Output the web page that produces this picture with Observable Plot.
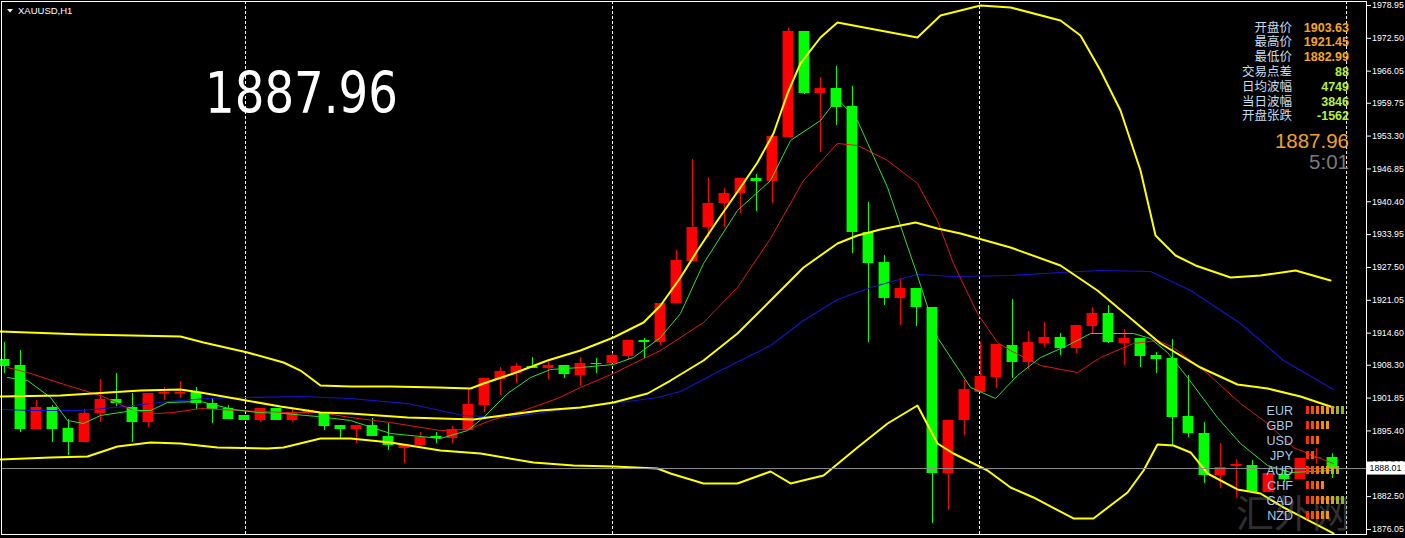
<!DOCTYPE html>
<html>
<head>
<meta charset="utf-8">
<script src="https://cdn.jsdelivr.net/npm/d3@7"></script>
<script src="https://cdn.jsdelivr.net/npm/@observablehq/plot@0.6"></script>
<style>
html,body{margin:0;padding:0;background:#000;}
#chart svg{display:block;}
</style>
</head>
<body>
<div id="chart"></div>
<script>
// ---------- DATA ----------
const symbolTitle = "XAUUSD,H1";
const bigPrice = "1887.96";

const opens = [
1909.43,1908.25,1895.68,1900.00,1895.88,1893.13,1898.82,1901.57,1900.00,1897.05,
1902.60,1902.60,1902.94,1900.78,1899.80,1898.43,1897.45,1899.80,1897.45,1898.82,
1898.82,1896.46,1895.68,1896.46,1894.31,1891.95,1892.54,1894.31,1893.91,1895.48,
1900.39,1905.50,1906.68,1908.05,1907.66,1908.25,1906.28,1908.64,1908.64,1910.02,
1913.16,1912.76,1920.42,1928.67,1935.35,1940.06,1942.03,1944.97,1944.38,1953.02,
1973.84,1961.67,1962.65,1959.11,1934.37,1928.47,1921.41,1923.37,1919.64,1887.04,
1897.45,1902.94,1905.89,1912.17,1908.84,1912.57,1913.75,1911.59,1915.91,1918.46,
1912.57,1913.55,1910.21,1909.62,1898.23,1894.89,1886.65,1888.41,1888.61,1883.31,
1886.85,1885.86,1889.98,1890.18];
const highs = [
1912.76,1911.19,1901.37,1900.39,1897.64,1899.61,1905.50,1906.68,1902.75,1902.75,
1903.93,1905.10,1903.93,1901.77,1900.39,1898.43,1899.80,1899.80,1899.80,1899.61,
1898.82,1896.46,1896.46,1897.84,1896.86,1892.74,1895.09,1895.09,1896.27,1903.73,
1905.69,1907.85,1908.64,1909.82,1908.84,1908.25,1909.82,1909.62,1910.61,1913.16,
1913.55,1920.42,1930.83,1948.70,1945.17,1943.01,1944.97,1945.76,1953.22,1974.43,
1973.84,1964.81,1966.97,1963.04,1940.26,1929.85,1925.33,1923.37,1919.64,1897.45,
1905.30,1912.76,1912.37,1921.21,1914.93,1916.69,1914.53,1916.10,1919.64,1920.03,
1915.32,1913.55,1910.80,1913.36,1906.28,1897.05,1892.93,1889.79,1889.59,1887.04,
1887.63,1889.98,1891.95,1890.97];
const lows = [
1906.68,1895.09,1895.68,1893.13,1890.57,1893.13,1897.05,1900.19,1893.13,1896.07,
1901.37,1901.77,1899.61,1896.86,1897.64,1897.45,1897.05,1897.45,1897.05,1898.62,
1895.48,1893.91,1892.93,1894.31,1891.56,1889.00,1892.54,1892.93,1892.93,1895.48,
1899.02,1902.36,1904.71,1907.66,1905.50,1905.69,1904.12,1906.68,1908.64,1909.23,
1909.62,1912.17,1920.42,1928.67,1933.39,1935.35,1938.10,1938.49,1940.06,1953.02,
1961.47,1950.08,1955.38,1930.24,1912.76,1920.03,1916.10,1915.91,1877.22,1879.78,
1894.50,1902.94,1903.73,1905.69,1907.46,1911.78,1910.21,1910.61,1914.53,1912.57,
1908.25,1907.85,1906.68,1892.54,1894.11,1885.08,1884.09,1882.33,1883.31,1883.31,
1885.27,1885.86,1888.81,1886.06];
const closes = [
1908.05,1895.68,1900.00,1895.68,1893.13,1898.82,1901.57,1900.78,1897.05,1902.75,
1903.00,1903.00,1900.78,1899.61,1897.64,1897.45,1899.80,1897.45,1899.02,1899.41,
1896.27,1895.68,1896.46,1894.31,1892.54,1892.74,1894.11,1893.91,1895.68,1900.59,
1905.69,1907.07,1908.05,1907.66,1908.25,1906.48,1908.64,1908.44,1910.21,1913.16,
1912.76,1920.42,1928.87,1935.35,1940.06,1942.03,1944.97,1944.38,1953.22,1973.84,
1961.67,1962.65,1958.92,1934.37,1928.28,1921.41,1923.37,1919.64,1887.04,1897.45,
1903.53,1906.09,1912.37,1908.84,1912.76,1913.75,1911.59,1916.10,1918.46,1912.76,
1913.55,1910.02,1909.43,1898.03,1894.89,1886.65,1888.22,1888.81,1883.31,1887.04,
1885.85,1889.98,1890.18,1887.96];

// indicator lines: [bar index, price]
const bbUpper = [[-0.25,1914.93],[4.94,1914.34],[11,1913.94],[12.44,1912.76],[15.19,1910.80],[17.44,1908.84],[18.5,1907.26],[19.75,1904.32],[21.63,1904.12],[24.13,1904.12],[27.06,1903.93],[29.13,1903.73],[29.94,1904.71],[31.81,1906.68],[33.94,1909.23],[36,1911.19],[38.06,1913.75],[39.94,1916.69],[41,1920.03],[42.25,1925.53],[43.31,1930.83],[44.56,1936.72],[46,1943.21],[47.06,1948.12],[48.06,1953.81],[48.94,1961.67],[49.75,1967.56],[51,1972.66],[52.06,1975.61],[57.06,1972.66],[58.5,1976.98],[61,1978.95],[62.88,1978.56],[66,1976.00],[67.25,1973.06],[68.5,1966.18],[69.75,1958.33],[71,1946.54],[71.94,1933.78],[73.19,1929.85],[74.44,1927.89],[76.63,1925.53],[78.5,1925.92],[80.69,1926.90],[82.88,1924.94]];
const bbMiddle = [[-0.25,1902.16],[3.5,1902.36],[8.5,1903.34],[11,1903.53],[12.25,1902.94],[14.75,1901.57],[17.25,1900.19],[19.75,1899.02],[21.63,1898.82],[25.19,1898.03],[27.25,1897.84],[29.31,1897.64],[33.5,1899.41],[36,1900.00],[38.06,1900.98],[40.19,1902.75],[41.63,1905.30],[43.69,1909.23],[45.81,1914.53],[47.88,1921.01],[49.94,1927.49],[52.06,1932.21],[53.31,1933.78],[54.75,1934.96],[56.94,1936.33],[58.31,1935.15],[59.75,1934.17],[62.88,1931.42],[66,1927.89],[68.31,1922.98],[72.25,1912.57],[74.75,1907.85],[77.06,1904.52],[78.94,1903.73],[81,1902.16],[83.06,1900.00]];
const bbLower = [[-0.25,1889.79],[2.88,1890.18],[5.19,1890.38],[7.06,1892.34],[9.13,1893.13],[11,1892.93],[13.31,1892.14],[16.44,1891.95],[17.44,1892.14],[19.75,1893.91],[21.63,1893.91],[24.13,1893.13],[27.25,1891.56],[29.75,1890.97],[33.06,1889.20],[35.56,1888.61],[38.06,1888.41],[40.81,1888.02],[41.63,1887.04],[43.69,1885.08],[45.81,1885.08],[47.88,1887.43],[49.13,1885.08],[51.19,1886.65],[53.31,1892.14],[55.19,1896.86],[57.06,1900.39],[58.31,1892.93],[59.31,1890.97],[61.44,1887.63],[62.88,1884.29],[64.31,1882.33],[66.81,1878.21],[68.06,1878.21],[70.19,1883.31],[71.19,1887.63],[72.06,1892.74],[73.06,1892.54],[74.13,1891.17],[75.19,1887.04],[77.06,1883.90],[78.5,1883.11],[79.94,1880.37],[83.06,1875.26]];
const maBlue = [[-0.25,1899.61],[1.81,1899.41],[4.94,1899.41],[8.06,1900.39],[10.19,1901.18],[12.69,1901.77],[15.38,1901.96],[18.5,1902.16],[21.63,1901.77],[25.19,1900.78],[28.69,1898.43],[31.44,1898.03],[34.56,1899.41],[38.06,1900.78],[40.81,1901.96],[42.25,1903.14],[44.75,1907.26],[47.88,1912.17],[49.94,1917.08],[52.06,1921.21],[54.13,1923.57],[57.06,1926.12],[59.31,1925.73],[62.88,1925.92],[66,1926.51],[68.5,1926.90],[71.63,1926.71],[74.13,1922.98],[77.25,1916.50],[79.94,1909.23],[83.06,1903.53]];
const maRed = [[0.19,1907.85],[1.44,1906.87],[3.94,1904.32],[6,1902.36],[8.06,1899.41],[9.56,1898.82],[10.56,1899.02],[12.25,1899.80],[14.75,1899.41],[17.44,1899.02],[19.75,1899.02],[21.63,1898.03],[24.13,1897.05],[27.25,1895.48],[28.94,1895.68],[30.38,1897.45],[32.44,1899.41],[34.56,1901.77],[36,1903.93],[38.06,1906.68],[39.31,1908.64],[41,1911.19],[43.69,1916.69],[45.81,1923.57],[47.88,1933.19],[49.94,1944.58],[52.06,1951.85],[53.31,1951.45],[55.19,1948.51],[57.06,1943.99],[58.31,1936.72],[59.31,1928.28],[60.81,1918.46],[62.06,1912.76],[62.88,1911.19],[64.75,1908.25],[67.06,1906.87],[68.5,1909.82],[70.56,1912.57],[72.06,1913.16],[73.06,1911.78],[75.19,1906.68],[77.25,1900.78],[78.94,1896.86],[80.56,1892.14],[82.25,1889.98],[83.06,1889.00]];
const maGreen = [[0.19,1905.89],[1.44,1905.30],[2.88,1901.96],[3.94,1897.45],[4.94,1896.86],[6,1898.43],[8.06,1899.41],[9.13,1899.41],[10.19,1900.98],[12.25,1901.18],[14.31,1899.61],[15.81,1899.02],[17.44,1898.82],[19.56,1898.23],[21.63,1897.45],[24.13,1894.89],[27.25,1893.91],[28.94,1895.48],[29.94,1898.03],[31.44,1902.75],[32.88,1905.89],[34.13,1907.46],[36,1907.85],[38.06,1908.44],[39.31,1909.82],[41,1913.75],[42.25,1918.46],[43.69,1928.28],[45.81,1938.69],[47.88,1944.58],[49.13,1952.44],[51,1956.36],[52.06,1960.68],[53.31,1956.36],[55.19,1943.21],[57.06,1925.92],[58.31,1913.75],[60.38,1903.93],[61.94,1901.77],[63.31,1906.28],[64.75,1909.82],[66.44,1912.17],[67.88,1914.53],[70.56,1914.53],[71.63,1913.55],[72.69,1910.80],[73.94,1905.89],[75.81,1898.03],[77.25,1892.93],[78.94,1888.61],[80.38,1887.24],[83.06,1887.63]];

const separators = [15.06, 38, 60.94, 83.88];
const yTicks = [1978.95,1972.50,1966.05,1959.75,1953.30,1946.85,1940.40,1933.95,1927.50,1921.05,1914.60,1908.30,1901.85,1895.40,1888.95,1882.50,1876.05];
const currentPrice = 1888.01;

const infoLabels = ["开盘价","最高价","最低价","交易点差","日均波幅","当日波幅","开盘张跌"];
const infoValues = ["1903.63","1921.45","1882.99","88","4749","3846","-1562"];
const lastPrice = "1887.96";
const countdown = "5:01";

const currencies = ["EUR","GBP","USD","JPY","AUD","CHF","CAD","NZD"];
const strength = [8,5,3,2,7,4,8,5];

// ---------- CHART ----------
const candles = opens.map((o,i)=>({k:i,o,h:highs[i],l:lows[i],c:closes[i],up:closes[i]>=o}));
const UP = "#ff0000", DOWN = "#00ff00";
const pt = {x:d=>d[0], y:d=>d[1]};
const SANS = "'Liberation Sans', Arial, sans-serif";

const plot = Plot.plot({
  width:1405, height:538,
  marginLeft:1, marginRight:39, marginTop:1, marginBottom:4,
  style:{background:"#000", color:"#fff", fontFamily:SANS},
  x:{domain:[-0.1875, 85.125], axis:null},
  y:{domain:[1875.06, 1979.73], axis:null},
  color:{type:"identity"},
  marks:[
    Plot.ruleX(separators, {stroke:"#fff", strokeDasharray:"3,2"}),
    Plot.ruleX(candles, {x:"k", y1:"l", y2:"h", stroke:d=>d.up?UP:DOWN}),
    Plot.rect(candles, {x1:d=>d.k-0.34, x2:d=>d.k+0.34, y1:"o", y2:"c", fill:d=>d.up?UP:DOWN}),
    Plot.line(maBlue, {...pt, stroke:"#1414c8", strokeWidth:1.2}),
    Plot.line(maRed, {...pt, stroke:"#e01818", strokeWidth:1}),
    Plot.line(maGreen, {...pt, stroke:"#30e030", strokeWidth:1}),
    Plot.line(bbUpper, {...pt, stroke:"#ffff00", strokeWidth:2}),
    Plot.line(bbMiddle, {...pt, stroke:"#ffff00", strokeWidth:2}),
    Plot.line(bbLower, {...pt, stroke:"#ffff00", strokeWidth:2}),
    Plot.ruleY([currentPrice], {stroke:"#8c8c8c"}),
    Plot.frame({stroke:"#fff"}),
    Plot.axisY(yTicks, {anchor:"right", tickSize:4, tickPadding:1.5, fontSize:8.8, fill:"#fff", stroke:"#fff", tickFormat:d=>d.toFixed(2)})
  ]
});
document.getElementById("chart").appendChild(plot);

const svg = d3.select(plot);
const ys = plot.scale("y");
const txt = (x, y, s, size, fill, anchor="start", family=SANS) =>
  svg.append("text").attr("x",x).attr("y",y).attr("font-size",size).attr("fill",fill)
     .attr("text-anchor",anchor).attr("font-family",family).text(s);

// current price box on axis
const cy = ys.apply(currentPrice);
svg.append("rect").attr("x",1367).attr("y",cy-6.5).attr("width",38).attr("height",13).attr("fill","#fff");
txt(1369.5, cy+3.3, currentPrice.toFixed(2), 8.8, "#000");

// title
svg.append("path").attr("d","M7,9 L13,9 L10,12.5 Z").attr("fill","#fff");
txt(18, 14, symbolTitle, 9.5, "#fff");

// big price
txt(205, 113, bigPrice, 57, "#fff", "start", "'DejaVu Sans', sans-serif")
  .attr("textLength",193).attr("lengthAdjust","spacingAndGlyphs");

// info panel
infoLabels.forEach((t,i)=>{
  const by = 31.5 + i*14.8;
  txt(1292, by, t, 12.5, "#c4dcf0", "end", "'Noto Sans CJK SC', sans-serif");
  txt(1349, by, infoValues[i], 12.5, i<3 ? "#f5a623" : "#b4f03c", "end").attr("font-weight","bold");
});
txt(1349, 148, lastPrice, 20.5, "#f0a030", "end");
txt(1349, 169, countdown, 20.5, "#7a7a7a", "end");

// watermark (faint, behind the currency panel)
txt(1350, 527, "汇外网", 38, "#777", "end", "'Noto Sans CJK SC', sans-serif").attr("opacity",0.4);

// currency strength panel
const palette = ["#ff2a00","#ff4a00","#ff6a00","#ff8400","#f09a10","#d0a818","#a8b020","#88b828"];
currencies.forEach((c,i)=>{
  const ry = 410 + i*15;
  txt(1293, ry+4.5, c, 12.5, "#a8c8ec", "end");
  for(let j=0;j<strength[i];j++){
    svg.append("rect").attr("x",1306+j*5).attr("y",ry-4).attr("width",3).attr("height",8)
      .attr("fill",palette[j]);
  }
});
</script>
</body>
</html>
